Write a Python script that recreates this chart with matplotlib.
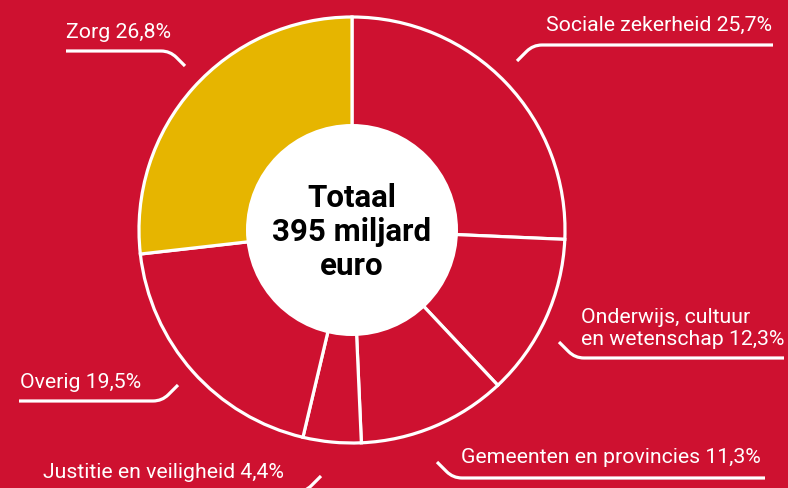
import numpy as np
import matplotlib.pyplot as plt
from matplotlib.path import Path
from matplotlib.patches import PathPatch, Circle

# data
labels = ['Sociale zekerheid', 'Onderwijs, cultuur\nen wetenschap', 'Gemeenten en provincies',
          'Justitie en veiligheid', 'Overig', 'Zorg']
shares = [25.7, 12.3, 11.3, 4.4, 19.5, 26.8]
highlight = 'Zorg'
total_text = 'Totaal\n395 miljard\neuro'

RED = '#CE1130'
YELLOW = '#E6B500'
W, H = 788, 489

plt.rcParams['font.family'] = ['Roboto', 'DejaVu Sans']


def fy(y):
    # image pixel row -> axes y (y up)
    return H - y


def pct(v):
    return f'{v:.1f}%'.replace('.', ',')


def leader(ax, tip, corner, end, r=9):
    tip, corner, end = (np.array(p, float) for p in (tip, corner, end))
    d1 = corner - tip
    d2 = end - corner
    a = corner - d1 / np.linalg.norm(d1) * r
    b = corner + d2 / np.linalg.norm(d2) * r
    pts = [tip, a, corner, b, end]
    pts = [(p[0], fy(p[1])) for p in pts]
    codes = [Path.MOVETO, Path.LINETO, Path.CURVE3, Path.CURVE3, Path.LINETO]
    ax.add_patch(PathPatch(Path(pts, codes), fc='none', ec='white', lw=2.3,
                           capstyle='butt', clip_on=True))


fig = plt.figure(figsize=(W / 100, H / 100), dpi=100, facecolor=RED)
ax = fig.add_axes([0, 0, 1, 1])
ax.set_facecolor(RED)

cx, cy, R = 352, 231, 213
colors = [YELLOW if l == highlight else RED for l in labels]
ax.pie(shares, colors=colors, startangle=90, counterclock=False,
       center=(cx, fy(cy)), radius=R, frame=True,
       wedgeprops=dict(edgecolor='white', linewidth=2.3))
ax.set_xlim(0, W)
ax.set_ylim(0, H)
ax.set_aspect('equal')
ax.axis('off')
ax.add_patch(Circle((cx, fy(cy)), 106, fc='white', ec='none', zorder=5))
ax.text(cx, fy(cy) - 1, total_text, ha='center', va='center', fontsize=22.5,
        fontweight='bold', color='black', linespacing=1.16, zorder=6)

# label placement (image pixel coords)
lab_pos = {
    'Sociale zekerheid': (772, 31, 'right'),
    'Onderwijs, cultuur\nen wetenschap': (581, 345, 'left'),
    'Gemeenten en provincies': (461, 463, 'left'),
    'Justitie en veiligheid': (43, 478, 'left'),
    'Overig': (20, 388, 'left'),
    'Zorg': (66, 38, 'left'),
}
leaders = {
    'Sociale zekerheid': ((517, 62), (533, 46), (773, 46)),
    'Onderwijs, cultuur\nen wetenschap': ((559, 343), (575, 359), (784, 359)),
    'Gemeenten en provincies': ((437, 463), (453, 479), (765, 479)),
    'Justitie en veiligheid': ((321, 477), (305, 493), (43, 493)),
    'Overig': ((178, 386), (162, 402), (19, 402)),
    'Zorg': ((185, 67), (170, 52), (66, 52)),
}

for lab, v in zip(labels, shares):
    x, y, ha = lab_pos[lab]
    ax.text(x, fy(y), f'{lab} {pct(v)}', ha=ha, va='baseline', fontsize=15.3,
            color='white', linespacing=1.2, multialignment='left')
    leader(ax, *leaders[lab])

fig.savefig('out.png', dpi=100, facecolor=RED)
